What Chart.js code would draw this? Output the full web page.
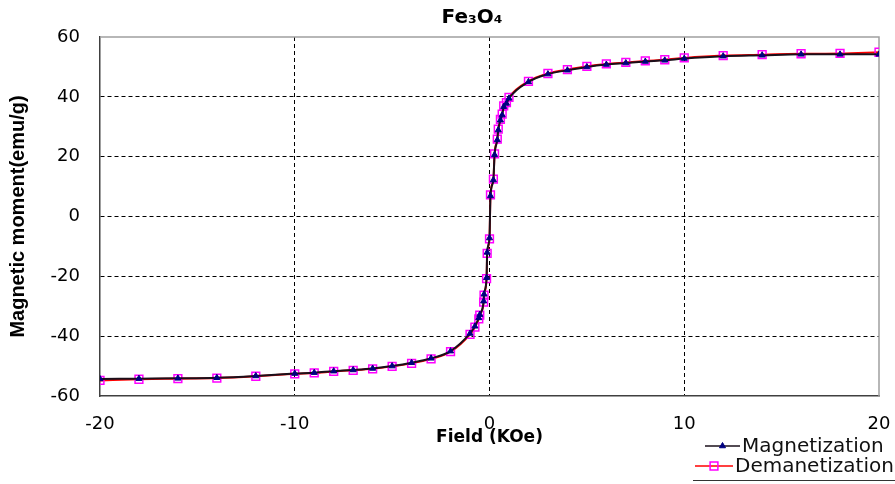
<!DOCTYPE html>
<html>
<head>
<meta charset="utf-8">
<script src="https://cdn.jsdelivr.net/npm/chart.js@4.4.0/dist/chart.umd.min.js"></script>
<style>
    html, body { margin: 0; padding: 0; background: #fff; }
    #wrap { width: 895px; height: 484px; }
</style>
</head>
<body>
<div id="wrap"><canvas id="loopChart"></canvas></div>
<script>
// field values (KOe) and moments (emu/g)
const fieldKOe = [-20, -18, -16, -14, -12, -10, -9, -8, -7, -6, -5, -4, -3, -2, -1, -0.75, -0.55, -0.5, -0.3, -0.28, -0.15, -0.12, 0,
    0.05, 0.2, 0.26, 0.4, 0.45, 0.56, 0.65, 0.73, 0.87, 1, 2, 3, 4, 5, 6, 7, 8, 9, 10, 12, 14, 16, 18, 20];
const magnetization = [-54.3, -54.2, -54.1, -53.9, -53.3, -52.5, -52.2, -51.7, -51.3, -50.8, -50, -48.9, -47.4, -45, -39.1, -36.7, -33.9, -32.8, -28.3, -26, -20.5, -12, -7.2,
    6.9, 12.2, 20.6, 25.6, 28.9, 32.2, 33.9, 36.7, 37.8, 39.5, 45, 47.6, 48.9, 50, 50.8, 51.3, 51.8, 52.2, 52.8, 53.6, 53.9, 54.2, 54.2, 54.2];
const demagnetization = [-54.8, -54.4, -54.2, -54, -53.4, -52.6, -52.3, -51.8, -51.4, -50.9, -50.1, -49.1, -47.6, -45.2, -39.4, -37, -34.2, -33, -28.6, -26.3, -20.8, -12.3, -7.5,
    7.2, 12.5, 20.9, 25.9, 29.2, 32.5, 34.2, 37, 38.1, 39.8, 45.2, 47.8, 49.1, 50.2, 51, 51.5, 52, 52.4, 53, 53.8, 54.1, 54.4, 54.5, 54.9];
const xRange = [-20, 20];
const yRange = [-60, 60];

const toPoints = ys => fieldKOe.map((x, i) => ({ x: x, y: ys[i] }));

const frameAndLegend = {
    id: 'frameAndLegend',
    beforeDatasetsDraw(chart) {
        const { ctx, chartArea: a } = chart;
        ctx.save();
        ctx.strokeStyle = '#a0a0a0';
        ctx.lineWidth = 1.5;
        ctx.beginPath();
        ctx.moveTo(a.left, a.top);
        ctx.lineTo(a.right, a.top);
        ctx.lineTo(a.right, a.bottom);
        ctx.stroke();
        ctx.restore();
    },
    afterDraw(chart) {
        const ctx = chart.ctx;
        ctx.save();
        // title
        ctx.fillStyle = '#000';
        ctx.font = 'bold 20px "DejaVu Sans"';
        ctx.textAlign = 'center';
        ctx.textBaseline = 'middle';
        ctx.fillText('Fe\u2083O\u2084', 472, 18);

        // legend, bottom right, partly clipped like the original
        ctx.font = '20px "DejaVu Sans"';
        ctx.textAlign = 'left';
        const rows = [
            { ds: chart.data.datasets[0], y: 446, x1: 705, x2: 740, tx: 742 },
            { ds: chart.data.datasets[1], y: 466, x1: 695, x2: 733, tx: 735 }
        ];
        rows.forEach(r => {
            ctx.strokeStyle = r.ds.borderColor;
            ctx.lineWidth = 1.5;
            ctx.beginPath();
            ctx.moveTo(r.x1, r.y);
            ctx.lineTo(r.x2, r.y);
            ctx.stroke();
            ctx.fillStyle = r.ds.pointBackgroundColor;
            ctx.strokeStyle = r.ds.pointBorderColor;
            ctx.lineWidth = r.ds.pointBorderWidth;
            Chart.helpers.drawPoint(ctx, {
                pointStyle: r.ds.pointStyle,
                radius: r.ds.pointRadius,
                borderWidth: r.ds.pointBorderWidth,
                rotation: 0
            }, (r.x1 + r.x2) / 2, r.y);
            ctx.fillStyle = '#111';
            ctx.fillText(r.ds.label, r.tx, r.y + 1);
        });
        ctx.strokeStyle = '#333';
        ctx.lineWidth = 1;
        ctx.beginPath();
        ctx.moveTo(693, 480.5);
        ctx.lineTo(895, 480.5);
        ctx.stroke();
        ctx.restore();
    }
};

document.addEventListener('DOMContentLoaded', () => {
    const ctx = document.getElementById('loopChart').getContext('2d');
    const edgeColor = c => (c.tick && (c.tick.value === c.scale.min || c.tick.value === c.scale.max)) ? 'rgba(0,0,0,0)' : '#000';

    new Chart(ctx, {
        type: 'scatter',
        data: {
            datasets: [{
                label: 'Magnetization',
                data: toPoints(magnetization),
                showLine: true,
                cubicInterpolationMode: 'monotone',
                borderColor: '#1a0f1a',
                borderWidth: 2,
                pointStyle: 'triangle',
                pointRadius: 3.5,
                pointBorderWidth: 1,
                pointBackgroundColor: '#000080',
                pointBorderColor: '#000080',
                order: 1
            }, {
                label: 'Demanetization',
                data: toPoints(demagnetization),
                showLine: true,
                cubicInterpolationMode: 'monotone',
                borderColor: '#ff0000',
                borderWidth: 2,
                pointStyle: 'rect',
                pointRadius: 5.5,
                pointBorderWidth: 1.5,
                pointBackgroundColor: 'rgba(0,0,0,0)',
                pointBorderColor: '#ff00ff',
                order: 2
            }]
        },
        options: {
            responsive: true,
            maintainAspectRatio: false,
            animation: false,
            layout: { padding: { top: 37, right: 16, left: 0, bottom: 0 } },
            plugins: {
                legend: { display: false },
                tooltip: { enabled: false }
            },
            scales: {
                x: {
                    type: 'linear',
                    min: xRange[0],
                    max: xRange[1],
                    afterFit: s => {
                        s.height = 88;
                        s.paddingLeft = 0;
                        s.paddingRight = 0;
                    },
                    ticks: {
                        stepSize: 10,
                        padding: 18,
                        color: '#000',
                        font: { family: 'DejaVu Sans', size: 18 }
                    },
                    grid: { drawTicks: false, color: edgeColor, lineWidth: 1 },
                    border: { display: true, color: '#404040', width: 1.5, dash: [4, 3] },
                    title: {
                        display: true,
                        text: 'Field (KOe)',
                        color: '#000',
                        font: { family: 'DejaVu Sans', size: 17, weight: 'bold' },
                        padding: { top: 0, bottom: 36 }
                    }
                },
                y: {
                    type: 'linear',
                    min: yRange[0],
                    max: yRange[1],
                    afterFit: s => { s.width = 100; },
                    ticks: {
                        stepSize: 20,
                        padding: 20,
                        color: '#000',
                        font: { family: 'DejaVu Sans', size: 18 }
                    },
                    grid: { drawTicks: false, color: edgeColor, lineWidth: 1 },
                    border: { display: true, color: '#404040', width: 1.5, dash: [4, 3] },
                    title: {
                        display: true,
                        text: 'Magnetic moment(emu/g)',
                        color: '#000',
                        font: { family: 'Liberation Sans', size: 20, weight: 'bold' },
                        padding: { top: 6, bottom: 0 }
                    }
                }
            }
        },
        plugins: [frameAndLegend]
    });
});
</script>
</body>
</html>
